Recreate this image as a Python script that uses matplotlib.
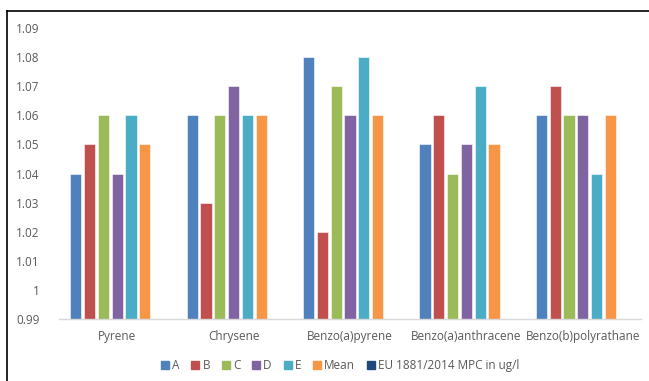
import matplotlib
matplotlib.use("Agg")
import matplotlib.pyplot as plt
from matplotlib.lines import Line2D
import numpy as np

categories = ["Pyrene", "Chrysene", "Benzo(a)pyrene", "Benzo(a)anthracene", "Benzo(b)polyrathane"]
series_names = ["A", "B", "C", "D", "E", "Mean", "EU 1881/2014 MPC in ug/l"]
A = [1.04, 1.06, 1.08, 1.05, 1.06]
B = [1.05, 1.03, 1.02, 1.06, 1.07]
C = [1.06, 1.06, 1.07, 1.04, 1.06]
D = [1.04, 1.07, 1.06, 1.05, 1.06]
E = [1.06, 1.06, 1.08, 1.07, 1.04]
Mean = [1.05, 1.06, 1.06, 1.05, 1.06]
EU = [0.0001, 0.0001, 0.0001, 0.0001, 0.0001]
yticks = [0.99, 1.0, 1.01, 1.02, 1.03, 1.04, 1.05, 1.06, 1.07, 1.08, 1.09]
ytick_labels = ["0.99", "1", "1.01", "1.02", "1.03", "1.04", "1.05", "1.06", "1.07", "1.08", "1.09"]

colors = ["#4F81BD", "#C0504D", "#9BBB59", "#8064A2", "#4BACC6", "#F79646", "#1F497D"]
data = [A, B, C, D, E, Mean, EU]

plt.rcParams['font.family'] = ['Open Sans', 'DejaVu Sans']

fig = plt.figure(figsize=(6.49, 3.81), dpi=100)
ax = fig.add_axes([0.0909, 0.1627, 0.8968, 0.7638])

x = np.arange(len(categories))
step = 0.1186
width = 0.095
for i, (vals, col) in enumerate(zip(data, colors)):
    ax.bar(x + (i - 3) * step, vals, width=width, color=col,
           edgecolor="white", linewidth=0.4, label=series_names[i], zorder=2)

ax.set_ylim(0.99, 1.09)
ax.set_xlim(-0.5, len(categories) - 0.5)
ax.set_yticks(yticks)
ax.set_yticklabels(ytick_labels)
ax.set_xticks(x)
ax.set_xticklabels(categories)
ax.tick_params(axis="both", length=0, labelsize=8.5, colors="#595959")
ax.tick_params(axis="y", pad=14)
ax.tick_params(axis="x", pad=8)
for s in ["top", "right", "left"]:
    ax.spines[s].set_visible(False)
ax.spines["bottom"].set_color("#d9d9d9")
ax.spines["bottom"].set_linewidth(1)

handles = [Line2D([0], [0], marker="s", linestyle="none", markersize=6,
                  markerfacecolor=c, markeredgecolor=c) for c in colors]
leg = fig.legend(handles, series_names, loc="center", bbox_to_anchor=(0.522, 0.04),
                 ncol=7, frameon=False, fontsize=8.5, handletextpad=0.0,
                 columnspacing=0.75, handlelength=1.2)
for t in leg.get_texts():
    t.set_color("#595959")

# outer border (top and left)
fig.add_artist(Line2D([7/649, 1.0], [1 - 11/381, 1 - 11/381], transform=fig.transFigure,
                      color="black", linewidth=1.2))
fig.add_artist(Line2D([7/649, 7/649], [0, 1 - 11/381], transform=fig.transFigure,
                      color="black", linewidth=1.2))

fig.savefig("out.png", dpi=100)
